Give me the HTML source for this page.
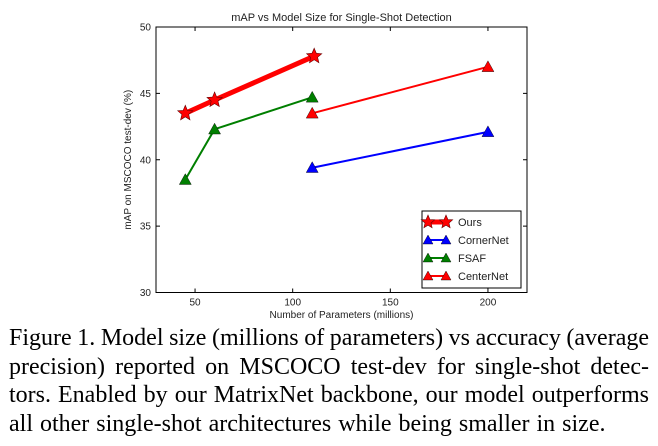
<!DOCTYPE html>
<html><head><meta charset="utf-8"><style>
body{margin:0;background:#fff;width:658px;height:446px;overflow:hidden;position:relative}
#cap{position:absolute;left:9px;top:324px;width:640px;font-family:"Liberation Serif",serif;font-size:24px;line-height:28.6px;color:#000}
#cap div{text-align:justify;text-align-last:justify;white-space:nowrap;word-spacing:-4px}
#cap div.last{text-align-last:left;word-spacing:1px}
</style></head><body>
<svg width="658" height="320" style="position:absolute;left:0;top:0" font-family="Liberation Sans, sans-serif">
<g id="g"></g>
</svg>
<div id="cap">
<div>Figure 1. Model size (millions of parameters) vs accuracy (average</div>
<div>precision) reported on MSCOCO test-dev for single-shot detec-</div>
<div>tors. Enabled by our MatrixNet backbone, our model outperforms</div>
<div class="last">all other single-shot architectures while being smaller in size.</div>
</div>
<script>
const xTicks=[50,100,150,200];
const yTicks=[30,35,40,45,50];
const seriesNames=["Ours","CornerNet","FSAF","CenterNet"];
const oursX=[45,60,111], oursY=[43.5,44.5,47.8];
const cornerX=[110,200], cornerY=[39.4,42.1];
const fsafX=[45,60,110], fsafY=[38.5,42.3,44.7];
const centerX=[110,200], centerY=[43.5,47.0];
const L=156,R=527,T=27,B=292.5,X0=30,X1=220,Y0=30,Y1=50;
const sx=v=>L+(v-X0)/(X1-X0)*(R-L), sy=v=>B-(v-Y0)/(Y1-Y0)*(B-T);
const g=document.getElementById('g');const NS="http://www.w3.org/2000/svg";
function mk(t,a,p){const e=document.createElementNS(NS,t);for(const k in a)e.setAttribute(k,a[k]);(p||g).appendChild(e);return e;}
function txt(s,a,name){const e=mk('text',a);e.textContent=s;return e;}
mk('rect',{x:L,y:T,width:R-L,height:B-T,fill:'#fff',stroke:'#000','stroke-width':1});
xTicks.forEach(v=>{const x=sx(v);mk('line',{x1:x,x2:x,y1:B,y2:B-4,stroke:'#000'});mk('line',{x1:x,x2:x,y1:T,y2:T+4,stroke:'#000'});
txt(String(v),{x:x,y:B+13,'font-size':10,'text-anchor':'middle',fill:'#222'},'x-tick-label');});
yTicks.forEach(v=>{const y=sy(v);mk('line',{x1:L,x2:L+4,y1:y,y2:y,stroke:'#000'});mk('line',{x1:R,x2:R-4,y1:y,y2:y,stroke:'#000'});
txt(String(v),{x:L-5,y:y+3.5,'font-size':10,'text-anchor':'end',fill:'#222'},'y-tick-label');});
txt('mAP vs Model Size for Single-Shot Detection',{x:(L+R)/2,y:21,'font-size':11,'text-anchor':'middle',fill:'#222'},'chart-title');
txt('Number of Parameters (millions)',{x:(L+R)/2,y:318,'font-size':10,'text-anchor':'middle',fill:'#222'},'x-axis-title');
txt('mAP on MSCOCO test-dev (%)',{x:0,y:0,'font-size':10,'text-anchor':'middle',fill:'#222',transform:`translate(131,${(T+B)/2}) rotate(-90)`},'y-axis-title');
function star(cx,cy,r,c){let p=[];for(let i=0;i<10;i++){const a=-Math.PI/2+i*Math.PI/5,rr=i%2?r*0.45:r;p.push((cx+rr*Math.cos(a)).toFixed(1)+','+(cy+rr*Math.sin(a)).toFixed(1));}
const e=mk('polygon',{points:p.join(' '),fill:c,stroke:'#600','stroke-width':0.6});}
function tri(cx,cy,r,c){const e=mk('polygon',{points:`${cx},${cy-r} ${cx-r},${cy+r*0.8} ${cx+r},${cy+r*0.8}`,fill:c,stroke:'#000','stroke-width':0.4});}
function series(xs,ys,c,w,mark,name){const pl=mk('polyline',{points:xs.map((x,i)=>sx(x)+','+sy(ys[i])).join(' '),fill:'none',stroke:c,'stroke-width':w});

xs.forEach((x,i)=>mark(sx(x),sy(ys[i]),mark===star?8:6,c));}
series(cornerX,cornerY,'#0000ff',2,tri,'cornernet');
series(fsafX,fsafY,'#007f00',2,tri,'fsaf');
series(centerX,centerY,'#ff0000',2,tri,'centernet');
series(oursX,oursY,'#ff0000',5,star,'ours');
const lg=mk('rect',{x:422,y:211,width:99,height:77,fill:'#fff',stroke:'#000','stroke-width':1});

const lc=['#ff0000','#0000ff','#007f00','#ff0000'];
seriesNames.forEach((n,i)=>{const y=222+i*18;mk('line',{x1:428,x2:446,y1:y,y2:y,stroke:lc[i],'stroke-width':i?2:5});
if(i==0){star(428,y,7,lc[i]);star(446,y,7,lc[i]);}else{tri(428,y,5,lc[i]);tri(446,y,5,lc[i]);}
txt(n,{x:458,y:y+4,'font-size':11,fill:'#222'},'legend-entry');});
</script>
</body></html>
